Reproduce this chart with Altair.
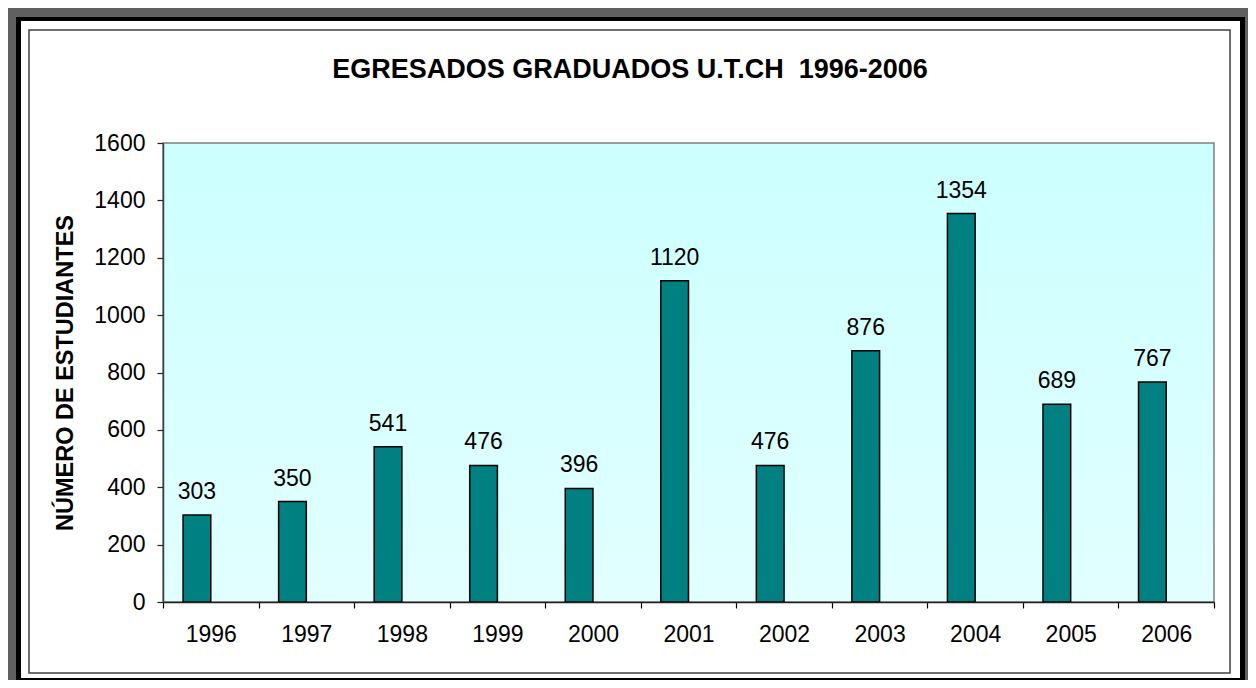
import altair as alt
import pandas as pd

years = ["1996", "1997", "1998", "1999", "2000", "2001", "2002", "2003", "2004", "2005", "2006"]
graduates = [303, 350, 541, 476, 396, 1120, 476, 876, 1354, 689, 767]
y_ticks = [0, 200, 400, 600, 800, 1000, 1200, 1400, 1600]
title_text = "EGRESADOS GRADUADOS U.T.CH \u00a01996-2006"
y_title = "NÚMERO DE ESTUDIANTES"

FONT = "Liberation Sans"
W, H = 1051, 459
BAR_W = 27.7

df = pd.DataFrame({"year": years, "n": graduates})
one = pd.DataFrame({"k": [0]})

x_enc = alt.X("year:N", sort=None,
              scale=alt.Scale(type="band", paddingInner=0, paddingOuter=0),
              axis=alt.Axis(title=None, labelAngle=0, labelFontSize=23, labelFont=FONT,
                            labelColor="black", labelPadding=15, tickSize=6, tickBand="extent",
                            tickColor="black", domainColor="#202020", domainWidth=1.5,
                            tickWidth=1.2, zindex=2))
y_enc = alt.Y("n:Q", scale=alt.Scale(domain=[0, 1600], nice=False),
              axis=alt.Axis(values=y_ticks, format="d", grid=False, title=y_title, titleFont=FONT,
                            titleFontSize=23.5, titleFontWeight="bold", titleColor="black",
                            titleAngle=270, titleX=-98, titleY=H / 2, titleAlign="center",
                            titleBaseline="middle", labelFontSize=23, labelFont=FONT,
                            labelColor="black", labelPadding=12, tickSize=6, tickColor="#202020",
                            tickWidth=1.2, domainColor="#404040", domainWidth=1.5, zindex=2))

# decorative frame
black_frame = alt.Chart(one).mark_rect(fill="black", strokeWidth=0).encode(
    x=alt.value(-147), x2=alt.value(1082), y=alt.value(-126), y2=alt.value(545))
white_frame = alt.Chart(one).mark_rect(fill="white", strokeWidth=0).encode(
    x=alt.value(-142), x2=alt.value(1077), y=alt.value(-122), y2=alt.value(535))
inner_border = alt.Chart(one).mark_rect(fill="white", stroke="#404040", strokeWidth=1.5).encode(
    x=alt.value(-134), x2=alt.value(1067), y=alt.value(-113), y2=alt.value(530))

gradient = {"gradient": "linear", "x1": 0, "y1": 0, "x2": 0, "y2": 1,
            "stops": [{"offset": 0, "color": "#ccffff"}, {"offset": 1, "color": "#e2ffff"}]}
plot_bg = alt.Chart(one).mark_rect(fill=gradient, stroke="#808080", strokeWidth=1.5).encode(
    x=alt.value(0), x2=alt.value(W), y=alt.value(0), y2=alt.value(H))

bars = alt.Chart(df).mark_bar(width=BAR_W, xOffset=-BAR_W / 2, color="#008080",
                              stroke="black", strokeWidth=1.5).encode(x=x_enc, y=y_enc)
labels = alt.Chart(df).mark_text(xOffset=-BAR_W / 2, dy=-16, baseline="alphabetic",
                                 align="center", fontSize=23, font=FONT, color="black").encode(
    x=alt.X("year:N", sort=None), y="n:Q", text="n:Q")

title = alt.Chart(one).mark_text(text=title_text, font=FONT, fontSize=27, fontWeight="bold",
                                 color="black", align="center", baseline="alphabetic").encode(
    x=alt.value(630 - 163), y=alt.value(78 - 143))

chart = alt.layer(black_frame, white_frame, inner_border, plot_bg, bars, labels, title).properties(
    width=W, height=H,
    autosize=alt.AutoSizeParams(type="none"),
    padding={"left": 155, "top": 135, "right": 34, "bottom": 78},
    background="#606060",
).configure_view(strokeWidth=0)

chart.save("out.html", embed_options={"renderer": "svg", "actions": False})
